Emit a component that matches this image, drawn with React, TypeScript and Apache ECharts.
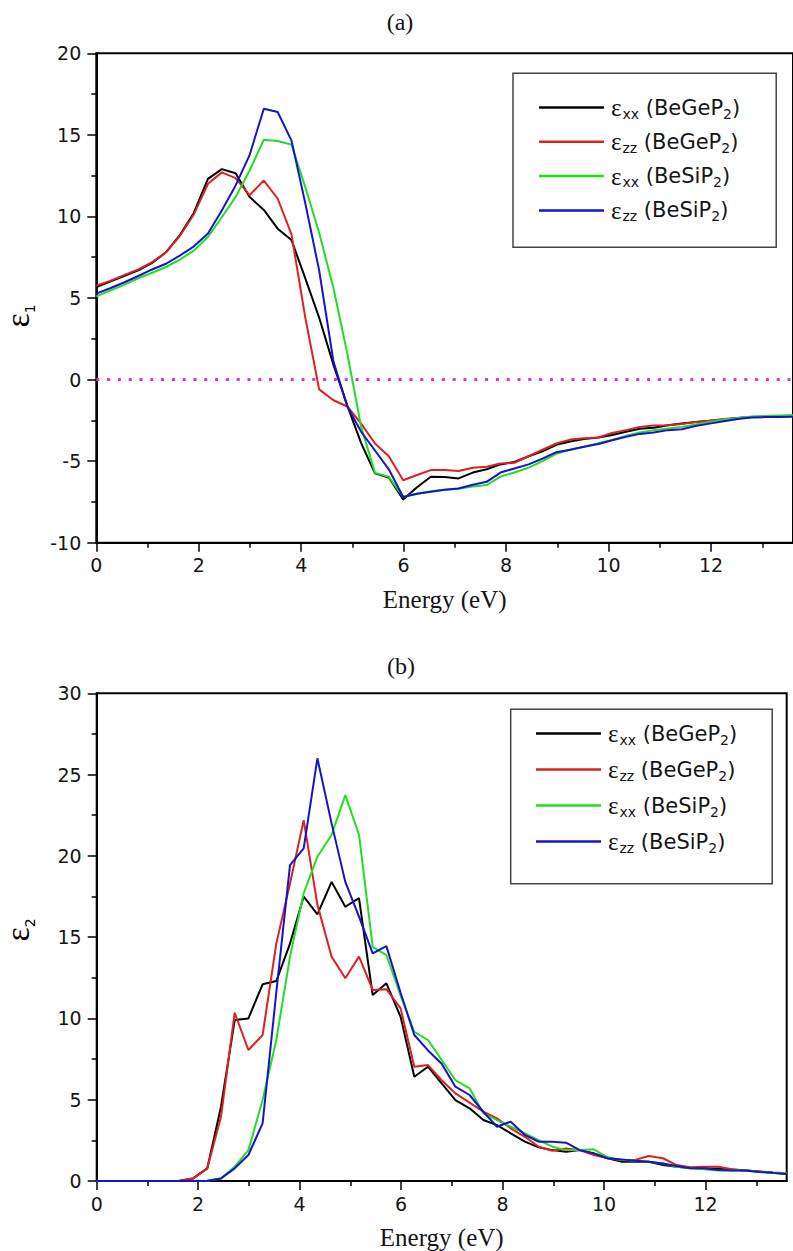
import React, { useEffect, useRef } from 'react';
import * as echarts from 'echarts';

// Photon energy grid (eV)
const energy = [0, 0.27, 0.54, 0.82, 1.09, 1.36, 1.63, 1.9, 2.18, 2.45, 2.72, 2.99, 3.27, 3.54, 3.81, 4.08, 4.35, 4.63, 4.9, 5.17, 5.44, 5.71, 5.99, 6.26, 6.53, 6.8, 7.07, 7.35, 7.62, 7.89, 8.16, 8.44, 8.71, 8.98, 9.25, 9.52, 9.8, 10.07, 10.34, 10.61, 10.88, 11.16, 11.43, 11.7, 11.97, 12.25, 12.52, 12.79, 13.06, 13.33, 13.6];

// (a) real part eps1
const eps1GeXX = [5.67, 6.0, 6.35, 6.7, 7.15, 7.8, 8.85, 10.2, 12.3, 12.9, 12.65, 11.2, 10.4, 9.25, 8.55, 6.2, 3.8, 0.9, -1.6, -3.9, -5.75, -6.0, -7.35, -6.6, -5.96, -5.98, -6.06, -5.7, -5.5, -5.2, -5.05, -4.7, -4.4, -4.0, -3.8, -3.65, -3.55, -3.4, -3.2, -3.02, -2.95, -2.8, -2.7, -2.6, -2.53, -2.45, -2.35, -2.3, -2.28, -2.25, -2.22];
const eps1GeZZ = [5.75, 6.05, 6.4, 6.75, 7.2, 7.8, 8.8, 10.1, 12.0, 12.7, 12.35, 11.3, 12.2, 11.1, 8.9, 3.8, -0.6, -1.27, -1.65, -2.7, -3.92, -4.7, -6.17, -5.85, -5.55, -5.55, -5.6, -5.4, -5.35, -5.15, -5.1, -4.7, -4.3, -3.92, -3.68, -3.6, -3.55, -3.27, -3.1, -2.9, -2.82, -2.8, -2.72, -2.6, -2.52, -2.42, -2.35, -2.3, -2.26, -2.24, -2.22];
const eps1SiXX = [5.1, 5.45, 5.8, 6.2, 6.55, 6.9, 7.35, 7.9, 8.75, 9.95, 11.2, 12.8, 14.7, 14.62, 14.4, 11.8, 9.0, 5.6, 1.6, -2.9, -5.72, -5.96, -7.19, -7.0, -6.85, -6.75, -6.7, -6.55, -6.47, -5.95, -5.7, -5.4, -5.0, -4.55, -4.3, -4.12, -3.9, -3.7, -3.45, -3.25, -3.1, -3.0, -2.9, -2.75, -2.6, -2.45, -2.35, -2.27, -2.24, -2.2, -2.18];
const eps1SiZZ = [5.27, 5.6, 5.95, 6.35, 6.75, 7.1, 7.6, 8.15, 8.95, 10.37, 11.9, 13.74, 16.6, 16.4, 14.65, 10.8, 6.7, 1.1, -1.65, -3.2, -4.35, -5.5, -7.2, -7.0, -6.88, -6.75, -6.68, -6.45, -6.27, -5.7, -5.45, -5.2, -4.85, -4.45, -4.3, -4.12, -3.95, -3.72, -3.5, -3.33, -3.25, -3.1, -3.05, -2.85, -2.7, -2.55, -2.42, -2.33, -2.3, -2.3, -2.28];

// (b) imaginary part eps2
const eps2GeXX = [0, 0, 0, 0, 0, 0, 0.02, 0.16, 0.78, 4.57, 9.9, 10.0, 12.1, 12.3, 14.6, 17.5, 16.4, 18.4, 16.87, 17.4, 11.44, 12.16, 10.1, 6.41, 7.03, 6.01, 4.98, 4.47, 3.75, 3.44, 2.93, 2.42, 2.07, 1.9, 1.8, 1.9, 1.7, 1.4, 1.19, 1.19, 1.19, 0.98, 0.88, 0.8, 0.78, 0.75, 0.7, 0.65, 0.58, 0.5, 0.43];
const eps2GeZZ = [0, 0, 0, 0, 0, 0, 0.02, 0.16, 0.78, 3.96, 10.35, 8.06, 8.98, 14.6, 18.3, 22.2, 17.0, 13.8, 12.47, 13.8, 11.75, 11.8, 10.62, 7.03, 7.13, 6.2, 5.39, 4.82, 4.26, 3.85, 3.24, 2.72, 2.11, 1.86, 2.0, 1.9, 1.6, 1.4, 1.29, 1.29, 1.54, 1.4, 0.98, 0.84, 0.88, 0.88, 0.72, 0.64, 0.58, 0.52, 0.47];
const eps2SiXX = [0, 0, 0, 0, 0, 0, 0, 0, 0.02, 0.16, 0.88, 1.9, 4.98, 8.67, 13.8, 17.7, 19.95, 21.3, 23.74, 21.3, 14.4, 13.9, 11.4, 9.18, 8.67, 7.44, 6.21, 5.7, 4.16, 3.75, 3.34, 2.93, 2.52, 2.11, 1.9, 1.9, 1.95, 1.46, 1.29, 1.25, 1.19, 1.08, 0.88, 0.78, 0.72, 0.64, 0.64, 0.64, 0.55, 0.5, 0.47];
const eps2SiZZ = [0, 0, 0, 0, 0, 0, 0, 0, 0.02, 0.16, 0.78, 1.6, 3.55, 11.6, 19.43, 20.46, 26.0, 22.0, 18.4, 16.26, 14.0, 14.45, 11.58, 8.98, 8.03, 7.21, 5.8, 5.29, 4.26, 3.34, 3.65, 2.83, 2.42, 2.42, 2.36, 1.9, 1.7, 1.4, 1.33, 1.25, 1.19, 1.08, 0.92, 0.78, 0.78, 0.68, 0.64, 0.64, 0.56, 0.5, 0.43];

const legendNames = ['εxx (BeGeP2)', 'εzz (BeGeP2)', 'εxx (BeSiP2)', 'εzz (BeSiP2)'];
const legendSubs = ['xx', 'zz', 'xx', 'zz'];
const legendCompounds = ['BeGe', 'BeGe', 'BeSi', 'BeSi'];
const seriesColors = ['#000000', '#dd2020', '#22dd22', '#1414cc'];

const majorXTicks = [0, 2, 4, 6, 8, 10, 12];
const minorXTicks = [1, 3, 5, 7, 9, 11, 13];

const TEXT = '#151515';
const SANS = 'DejaVu Sans';
const SERIF = 'Liberation Serif';

export default function App() {
  const ref = useRef<HTMLDivElement>(null);

  useEffect(() => {
    const chart = echarts.init(ref.current as HTMLDivElement, null, { renderer: 'svg' });

    const lineStyleTick = { color: '#000', width: 1.5 };

    const mainX = (gridIndex: number) => ({
      type: 'value',
      gridIndex,
      min: 0,
      max: 13.6,
      position: 'bottom',
      axisLine: { show: true, onZero: false, lineStyle: { color: '#000', width: 2 } },
      axisTick: { show: true, length: 9, customValues: majorXTicks, lineStyle: lineStyleTick },
      axisLabel: { show: true, customValues: majorXTicks, fontFamily: SANS, fontSize: 19, color: TEXT, margin: 13 },
      splitLine: { show: false },
      name: 'Energy (eV)',
      nameLocation: 'middle',
      nameGap: 44,
      nameTextStyle: { fontFamily: SERIF, fontSize: 25, color: TEXT },
    });

    const minorX = (gridIndex: number) => ({
      type: 'value',
      gridIndex,
      min: 0,
      max: 13.6,
      position: 'bottom',
      axisLine: { show: false, onZero: false },
      axisTick: { show: true, length: 5, customValues: minorXTicks, lineStyle: lineStyleTick },
      axisLabel: { show: false },
      splitLine: { show: false },
    });

    const yCfg = (gridIndex: number, min: number, max: number) => ({
      type: 'value',
      gridIndex,
      min,
      max,
      interval: 5,
      axisLine: { show: true, onZero: false, lineStyle: { color: '#000', width: 2 } },
      axisTick: { show: true, length: 9, lineStyle: lineStyleTick },
      minorTick: { show: true, splitNumber: 2, length: 5, lineStyle: lineStyleTick },
      axisLabel: { fontFamily: SANS, fontSize: 19, color: TEXT, margin: 15 },
      splitLine: { show: false },
      minorSplitLine: { show: false },
    });

    const richLegend = {
      e: { fontFamily: SERIF, fontSize: 25, lineHeight: 26, color: TEXT, padding: [0, 1, 0, 2] },
      s: { fontFamily: SANS, fontSize: 14, lineHeight: 13, verticalAlign: 'bottom', color: TEXT },
      m: { fontFamily: SANS, fontSize: 21, lineHeight: 26, color: TEXT },
    };

    const legendFormatter = (name: string) => {
      const i = legendNames.indexOf(name);
      return `{e|ε}{s|${legendSubs[i]}}{m| (${legendCompounds[i]}P}{s|2}{m|)}`;
    };

    const legendBase = {
      data: legendNames,
      orient: 'vertical',
      itemWidth: 65,
      itemHeight: 2.5,
      icon: 'rect',
      borderColor: '#444',
      borderWidth: 1.5,
      selectedMode: false,
      formatter: legendFormatter,
      textStyle: { rich: richLegend },
    };

    const mk = (name: string, values: number[], color: string, xi: number, yi: number, extra: any = {}) => ({
      name,
      type: 'line',
      xAxisIndex: xi,
      yAxisIndex: yi,
      data: energy.map((e, i) => [e, values[i]]),
      symbol: 'none',
      lineStyle: { color, width: 2 },
      itemStyle: { color },
      ...extra,
    });

    const richAxisName = {
      e: { fontFamily: SERIF, fontSize: 34, lineHeight: 40, color: TEXT },
      s: { fontFamily: SANS, fontSize: 14, lineHeight: 14, verticalAlign: 'bottom', color: TEXT },
    };

    const option = {
      animation: false,
      backgroundColor: '#ffffff',
      grid: [
        { left: 96.3, top: 53.3, width: 701, height: 489.4, show: true, borderColor: '#000', borderWidth: 2, containLabel: false },
        { left: 96.7, top: 693.3, width: 690, height: 487.7, show: true, borderColor: '#000', borderWidth: 2, containLabel: false },
      ],
      xAxis: [mainX(0), minorX(0), mainX(1), minorX(1)],
      yAxis: [yCfg(0, -10, 20), yCfg(1, 0, 30)],
      legend: [
        { ...legendBase, left: 513, top: 73.3, padding: [21.7, 36, 23.9, 26], itemGap: 8.8 },
        { ...legendBase, left: 510.7, top: 709.3, padding: [11.7, 35, 29.2, 25.3], itemGap: 10.5 },
      ],
      graphic: [
        { type: 'text', x: 400, y: 22, style: { text: '(a)', fontFamily: SERIF, fontSize: 24, fill: TEXT, align: 'center', verticalAlign: 'middle' } },
        { type: 'text', x: 401, y: 666, style: { text: '(b)', fontFamily: SERIF, fontSize: 24, fill: TEXT, align: 'center', verticalAlign: 'middle' } },
        { type: 'text', x: 17, y: 316, rotation: Math.PI / 2, style: { text: '{e|ε}{s|1}', rich: richAxisName, align: 'center', verticalAlign: 'middle' } },
        { type: 'text', x: 17, y: 930, rotation: Math.PI / 2, style: { text: '{e|ε}{s|2}', rich: richAxisName, align: 'center', verticalAlign: 'middle' } },
      ],
      series: [
        mk(legendNames[0], eps1GeXX, seriesColors[0], 0, 0, {
          markLine: {
            silent: true,
            symbol: 'none',
            label: { show: false },
            lineStyle: { color: '#e030e0', width: 3, type: [3, 7.8] },
            data: [{ yAxis: 0 }],
          },
        }),
        mk(legendNames[1], eps1GeZZ, seriesColors[1], 0, 0),
        mk(legendNames[2], eps1SiXX, seriesColors[2], 0, 0),
        mk(legendNames[3], eps1SiZZ, seriesColors[3], 0, 0),
        mk(legendNames[0], eps2GeXX, seriesColors[0], 2, 1),
        mk(legendNames[1], eps2GeZZ, seriesColors[1], 2, 1),
        mk(legendNames[2], eps2SiXX, seriesColors[2], 2, 1),
        mk(legendNames[3], eps2SiZZ, seriesColors[3], 2, 1),
      ],
    };

    chart.setOption(option as any);
    return () => chart.dispose();
  }, []);

  return (
    <div
      ref={ref}
      style={{ position: 'absolute', left: 0, top: 0, width: 793, height: 1251, background: '#fff' }}
    />
  );
}
